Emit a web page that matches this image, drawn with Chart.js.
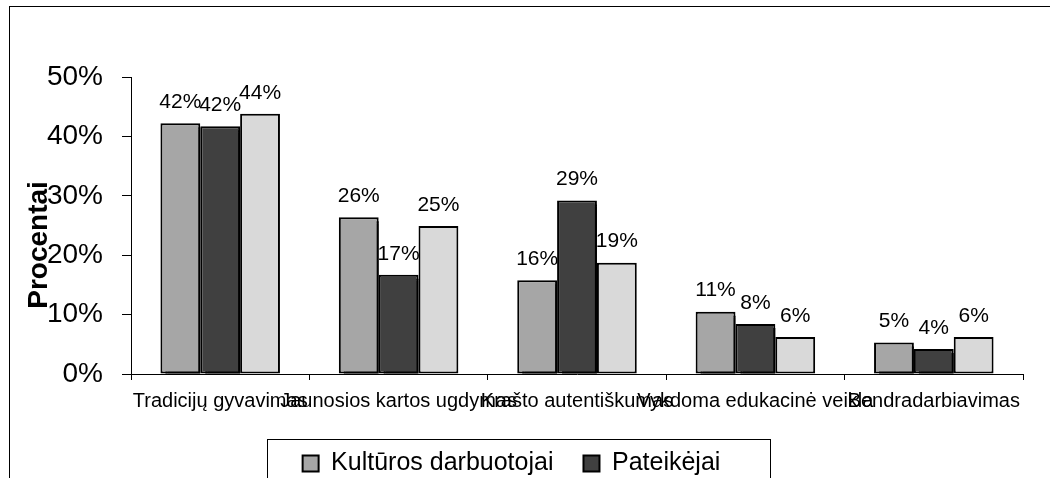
<!DOCTYPE html>
<html>
<head>
<meta charset="utf-8">
<script src="https://cdn.jsdelivr.net/npm/chart.js@4/dist/chart.umd.min.js"></script>
<style>
  html, body { margin: 0; padding: 0; background: #fff; overflow: hidden; }
  #frame { position: absolute; left: 9px; top: 6px; width: 1100px; height: 520px;
           border-left: 1px solid #000; border-top: 1px solid #000; }
  #wrap { position: absolute; left: 0; top: 0; width: 1050px; height: 510px; }
</style>
</head>
<body>
<div id="frame"></div>
<div id="wrap"><canvas id="chart"></canvas></div>
<script>
'use strict';

// categories and series (percent)
const categories = ['Tradicijų gyvavimas', 'Jaunosios kartos ugdymas', 'Krašto autentiškumas', 'Vykdoma edukacinė veikla', 'Bendradarbiavimas'];
const kulturosDarbuotojai = [42.2, 26.4, 15.8, 10.5, 5.3];
const pateikejai          = [41.7, 16.7, 29.2, 8.4, 4.2];
const treciaGrupe         = [43.8, 24.9, 18.75, 6.25, 6.25];
const yTicks = [0, 10, 20, 30, 40, 50];

const FONT = '"Liberation Sans", Arial, sans-serif';

// black drop shadow on the first two series, like the old office chart
const barShadow = {
  id: 'barShadow',
  beforeDatasetDraw(chart, args) {
    if (args.index > 1) return;
    const ctx = chart.ctx;
    ctx.save();
    ctx.shadowColor = '#000';
    ctx.shadowOffsetX = 5;
    ctx.shadowOffsetY = 4;
    ctx.shadowBlur = 0;
  },
  afterDatasetDraw(chart, args) {
    if (args.index > 1) return;
    chart.ctx.restore();
  }
};

const valueLabels = {
  id: 'valueLabels',
  afterDatasetsDraw(chart) {
    const ctx = chart.ctx;
    ctx.save();
    ctx.font = '21px ' + FONT;
    ctx.fillStyle = '#000';
    ctx.textAlign = 'center';
    ctx.textBaseline = 'middle';
    chart.data.datasets.forEach((ds, i) => {
      chart.getDatasetMeta(i).data.forEach((bar, j) => {
        ctx.fillText(Math.round(ds.data[j]) + '%', bar.x, bar.y - 21);
      });
    });
    ctx.restore();
  }
};

const legendBox = {
  id: 'legendBox',
  afterDraw(chart) {
    const lg = chart.legend;
    const ctx = chart.ctx;
    const cx = (lg.left + lg.right) / 2 + 6;
    ctx.save();
    ctx.strokeStyle = '#000';
    ctx.lineWidth = 1;
    ctx.strokeRect(Math.round(cx - 251) + 0.5, Math.round(lg.top + 18) + 0.5, 503, 60);
    ctx.restore();
  }
};

new Chart(document.getElementById('chart'), {
  type: 'bar',
  data: {
    labels: categories,
    datasets: [
      { label: 'Kultūros darbuotojai', data: kulturosDarbuotojai, backgroundColor: '#a6a6a6' },
      { label: 'Pateikėjai', data: pateikejai, backgroundColor: '#404040' },
      { label: 'Kiti', data: treciaGrupe, backgroundColor: '#d9d9d9' },
    ].map(d => Object.assign(d, { borderColor: '#000', borderWidth: 2, borderSkipped: false,
                                   barPercentage: 1, categoryPercentage: 0.67 })),
  },
  options: {
    responsive: true, maintainAspectRatio: false, animation: false,
    layout: { padding: { left: 0, right: 27, top: 77, bottom: 24 } },
    plugins: {
      tooltip: { enabled: false },
      legend: {
        position: 'bottom',
        labels: {
          filter: item => item.datasetIndex < 2,
          boxWidth: 16, boxHeight: 16, padding: 30, color: '#000',
          font: { family: FONT, size: 25 },
        },
      },
    },
    scales: {
      x: {
        grid: { offset: true, drawOnChartArea: false, tickLength: 6, color: '#000' },
        border: { color: '#000', width: 1 },
        ticks: { autoSkip: false, maxRotation: 0, minRotation: 0, padding: 9, color: '#000',
                 font: { family: FONT, size: 20 } },
        afterFit: s => { s.height = 47; },
      },
      y: {
        min: 0, max: 50,
        afterBuildTicks: s => { s.ticks = yTicks.map(v => ({ value: v })); },
        grid: { drawOnChartArea: false, tickLength: 9, color: '#000' },
        border: { color: '#000', width: 1 },
        ticks: { padding: 19, color: '#000', callback: v => v + '%', font: { family: FONT, size: 28 } },
        title: { display: true, text: 'Procentai     ', color: '#000', padding: { top: 22, bottom: 0 },
                 font: { family: FONT, size: 28, weight: 'bold' } },
        afterFit: s => { s.width = 131; },
      },
    },
  },
  plugins: [barShadow, valueLabels, legendBox],
});
</script>
</body>
</html>
